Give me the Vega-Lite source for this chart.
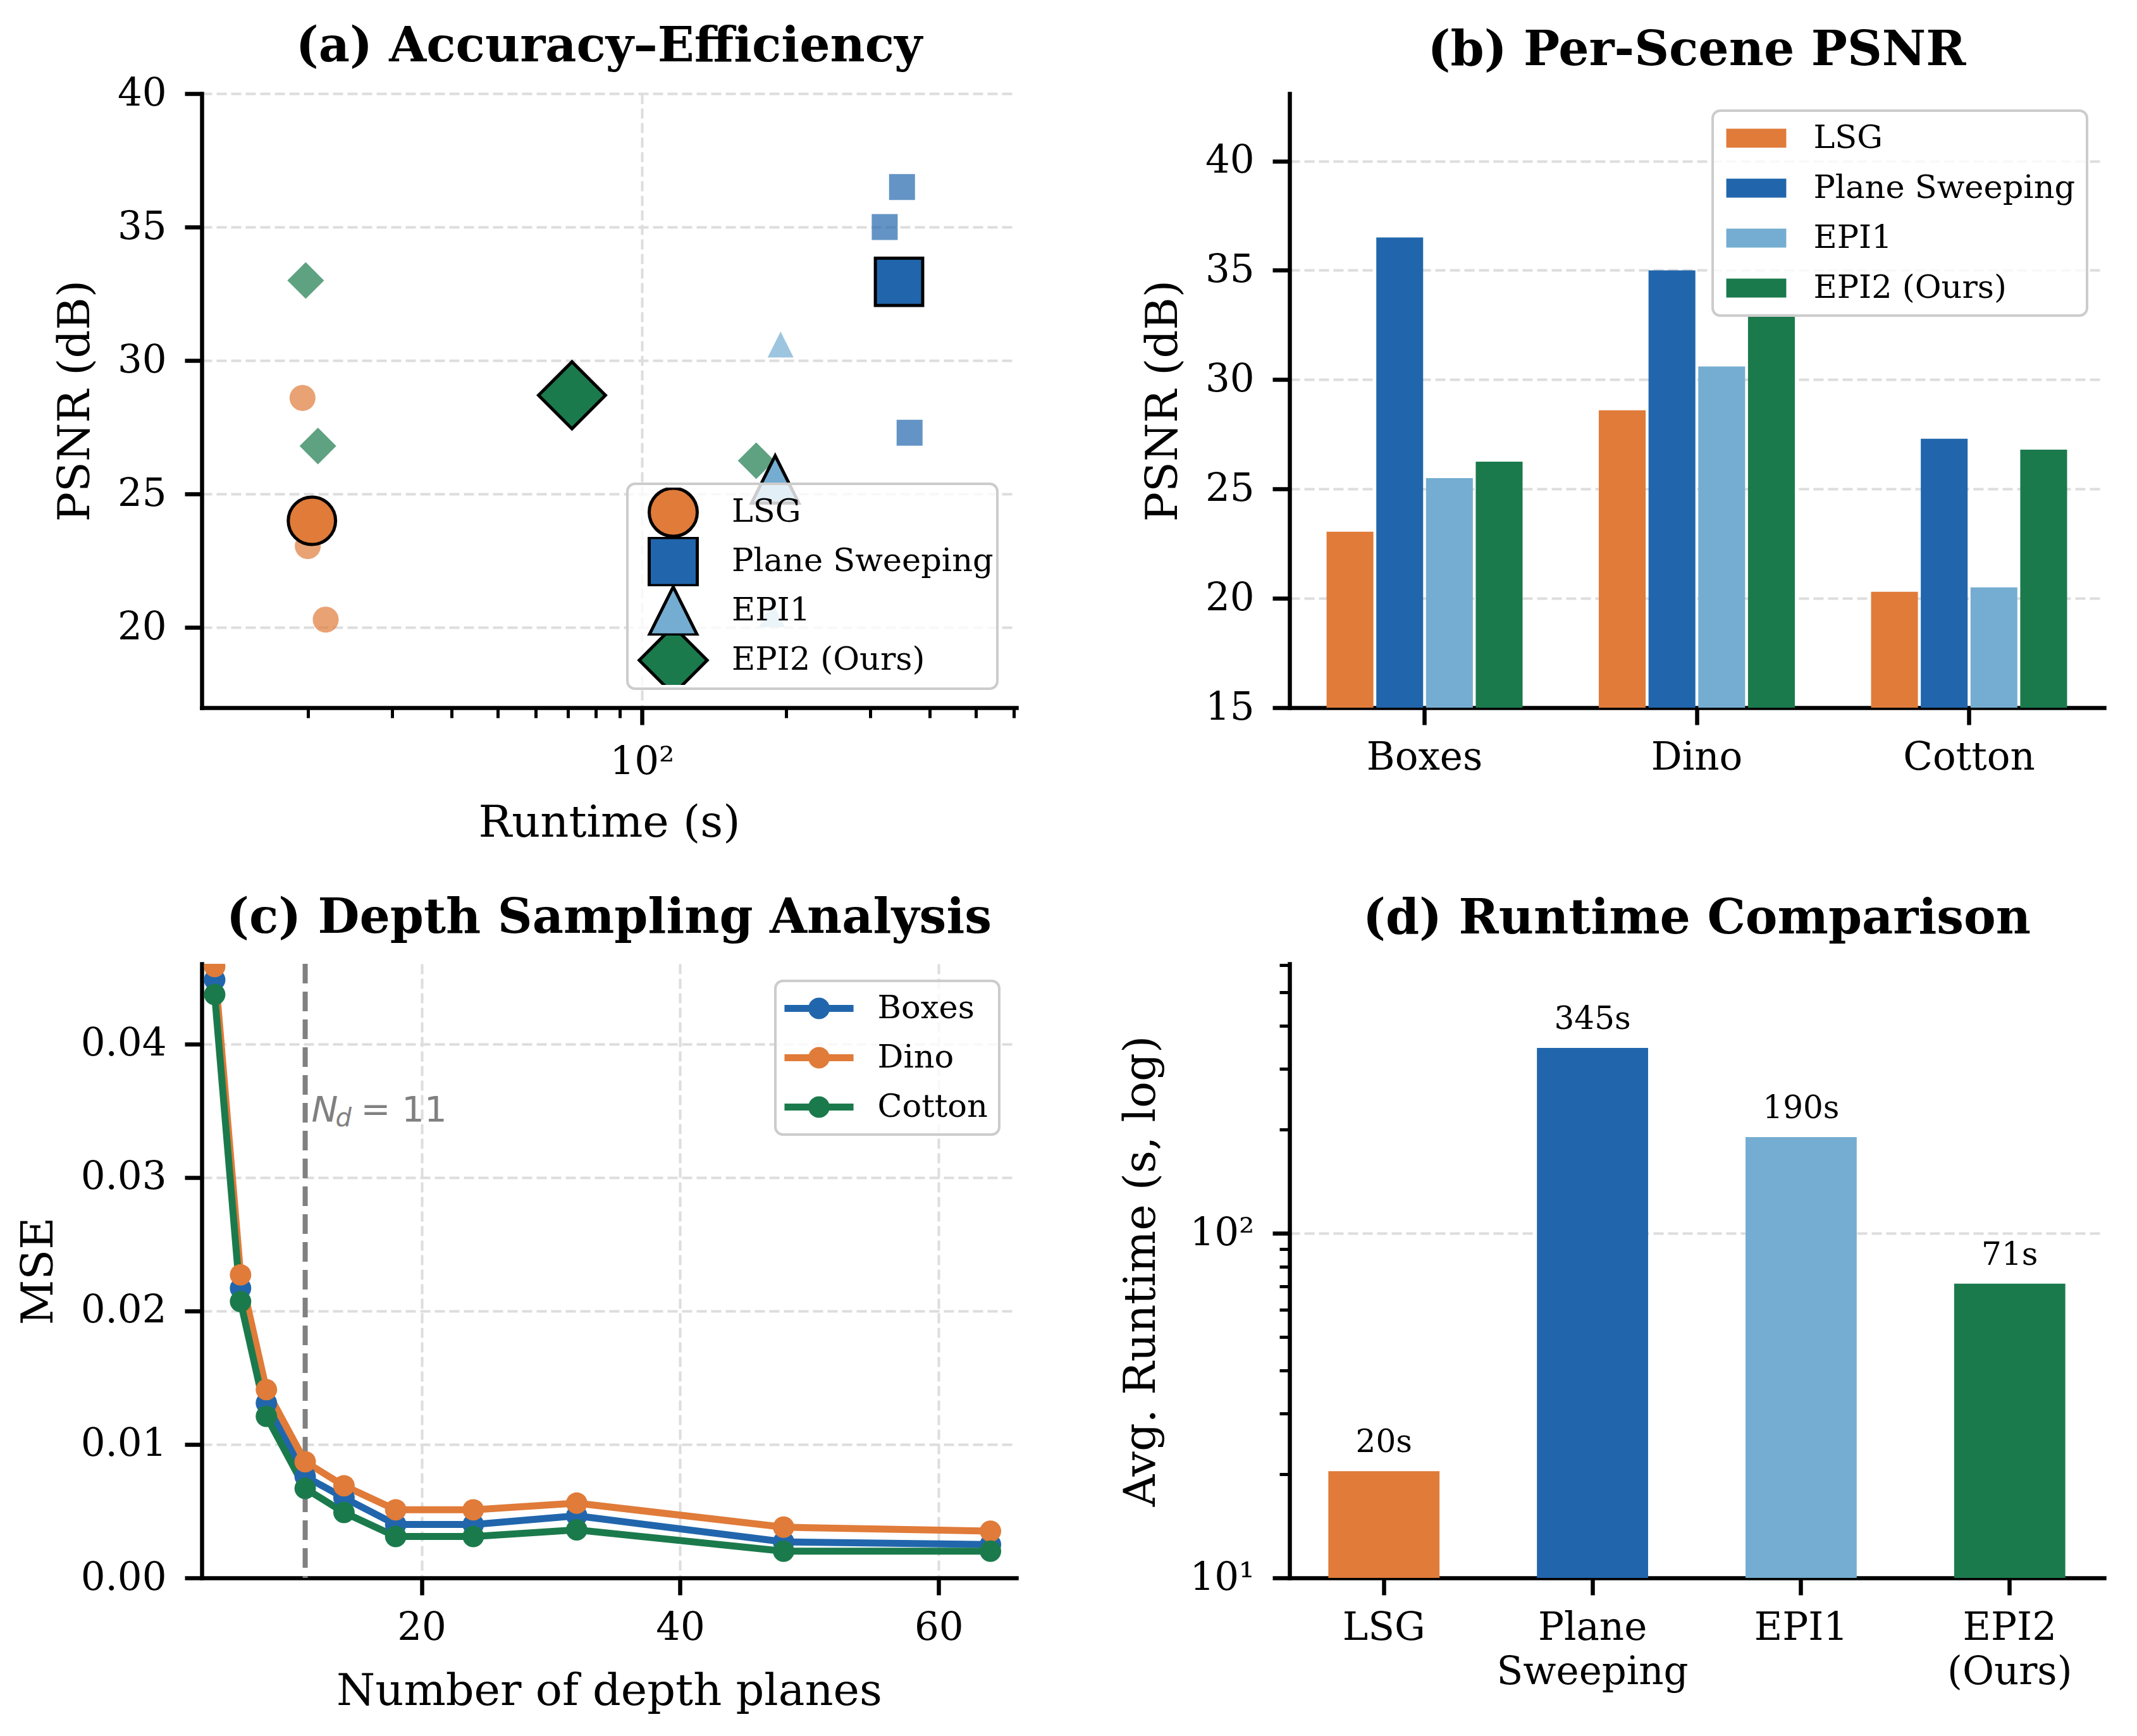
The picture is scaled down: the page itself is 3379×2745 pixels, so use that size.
{
  "$schema": "https://vega.github.io/schema/vega-lite/v6.json",
  "background": "white",
  "padding": {"left": 26, "top": 36, "right": 20, "bottom": 20},
  "datasets": {
    "scenes": [
      {"method": "LSG", "scene": "Boxes", "psnr": 23.05, "runtime": 20.0},
      {"method": "LSG", "scene": "Dino", "psnr": 28.6, "runtime": 19.5},
      {"method": "LSG", "scene": "Cotton", "psnr": 20.3, "runtime": 21.8},
      {"method": "Plane Sweeping", "scene": "Boxes", "psnr": 36.5, "runtime": 350},
      {"method": "Plane Sweeping", "scene": "Dino", "psnr": 35.0, "runtime": 322},
      {"method": "Plane Sweeping", "scene": "Cotton", "psnr": 27.3, "runtime": 363},
      {"method": "EPI1", "scene": "Boxes", "psnr": 25.5, "runtime": 188},
      {"method": "EPI1", "scene": "Dino", "psnr": 30.6, "runtime": 195},
      {"method": "EPI1", "scene": "Cotton", "psnr": 20.5, "runtime": 187},
      {"method": "EPI2 (Ours)", "scene": "Boxes", "psnr": 26.25, "runtime": 173.4},
      {"method": "EPI2 (Ours)", "scene": "Dino", "psnr": 33.0, "runtime": 19.8},
      {"method": "EPI2 (Ours)", "scene": "Cotton", "psnr": 26.8, "runtime": 21.0}
    ],
    "means": [
      {"method": "LSG", "psnr": 24.0, "runtime": 20.4, "label": "20s"},
      {"method": "Plane Sweeping", "psnr": 32.95, "runtime": 345, "label": "345s"},
      {"method": "EPI1", "psnr": 25.55, "runtime": 190, "label": "190s"},
      {"method": "EPI2 (Ours)", "psnr": 28.7, "runtime": 71.4, "label": "71s"}
    ],
    "mse": [
      {"scene": "Boxes", "planes": 4, "mse": 0.0448},
      {"scene": "Boxes", "planes": 6, "mse": 0.0217},
      {"scene": "Boxes", "planes": 8, "mse": 0.0131},
      {"scene": "Boxes", "planes": 11, "mse": 0.0076},
      {"scene": "Boxes", "planes": 14, "mse": 0.0060},
      {"scene": "Boxes", "planes": 18, "mse": 0.0040},
      {"scene": "Boxes", "planes": 24, "mse": 0.0040},
      {"scene": "Boxes", "planes": 32, "mse": 0.00465},
      {"scene": "Boxes", "planes": 48, "mse": 0.0027},
      {"scene": "Boxes", "planes": 64, "mse": 0.0025},
      {"scene": "Dino", "planes": 4, "mse": 0.0458},
      {"scene": "Dino", "planes": 6, "mse": 0.0227},
      {"scene": "Dino", "planes": 8, "mse": 0.0141},
      {"scene": "Dino", "planes": 11, "mse": 0.0087},
      {"scene": "Dino", "planes": 14, "mse": 0.0069},
      {"scene": "Dino", "planes": 18, "mse": 0.0051},
      {"scene": "Dino", "planes": 24, "mse": 0.0051},
      {"scene": "Dino", "planes": 32, "mse": 0.0056},
      {"scene": "Dino", "planes": 48, "mse": 0.0038},
      {"scene": "Dino", "planes": 64, "mse": 0.0035},
      {"scene": "Cotton", "planes": 4, "mse": 0.0437},
      {"scene": "Cotton", "planes": 6, "mse": 0.0207},
      {"scene": "Cotton", "planes": 8, "mse": 0.0121},
      {"scene": "Cotton", "planes": 11, "mse": 0.0067},
      {"scene": "Cotton", "planes": 14, "mse": 0.0049},
      {"scene": "Cotton", "planes": 18, "mse": 0.0031},
      {"scene": "Cotton", "planes": 24, "mse": 0.0031},
      {"scene": "Cotton", "planes": 32, "mse": 0.0036},
      {"scene": "Cotton", "planes": 48, "mse": 0.0020},
      {"scene": "Cotton", "planes": 64, "mse": 0.0020}
    ]
  },
  "columns": 2,
  "bounds": "flush",
  "spacing": {"row": 405, "column": 432},
  "resolve": {
    "scale": {"color": "independent", "shape": "independent", "stroke": "independent"},
    "legend": {"color": "independent", "shape": "independent", "stroke": "independent"}
  },
  "concat": [
    {
      "width": 1288,
      "height": 971,
      "title": {"text": "(a) Accuracy–Efficiency", "offset": 4},
      "encoding": {
        "x": {
          "field": "runtime", "type": "quantitative",
          "scale": {"type": "log", "domain": [12, 607], "nice": false},
          "axis": {
            "title": "Runtime (s)", "titlePadding": 32, "labelPadding": 29,
            "values": [20, 30, 40, 50, 60, 70, 80, 90, 100, 200, 300, 400, 500, 600],
            "labelExpr": "datum.value == 100 ? '10²' : ''",
            "tickSize": {"condition": {"test": "datum.value == 100", "value": 27}, "value": 16},
            "tickWidth": {"condition": {"test": "datum.value == 100", "value": 6.5}, "value": 5},
            "gridOpacity": {"condition": {"test": "datum.value == 100", "value": 1}, "value": 0}
          }
        },
        "y": {
          "field": "psnr", "type": "quantitative",
          "scale": {"domain": [17, 40], "nice": false, "zero": false},
          "axis": {"title": "PSNR (dB)", "values": [20, 25, 30, 35, 40]}
        },
        "color": {
          "field": "method", "type": "nominal",
          "scale": {"domain": ["LSG", "Plane Sweeping", "EPI1", "EPI2 (Ours)"], "range": ["#E07B39", "#2166AC", "#74ADD1", "#1B7A4C"]},
          "legend": {"title": null, "orient": "bottom-right", "offset": 30, "symbolSize": 5776, "symbolStrokeColor": "black", "symbolStrokeWidth": 5, "symbolOpacity": 1, "rowPadding": 0, "clipHeight": 78, "padding": 6, "symbolOffset": 26, "labelOffset": 52, "labelLimit": 0, "labelFontSize": 51,
            "encode": {"symbols": {"update": {"stroke": {"value": "black"}, "strokeWidth": {"value": 5}, "opacity": {"value": 1}, "size": {"value": 5776}}}}}
        },
        "shape": {
          "field": "method", "type": "nominal",
          "scale": {"domain": ["LSG", "Plane Sweeping", "EPI1", "EPI2 (Ours)"], "range": ["M 1 0 A 1 1 0 1 1 -1 0 A 1 1 0 1 1 1 0 Z", "M -1 -1 L 1 -1 L 1 1 L -1 1 Z", "M 0 -1 L 1 1 L -1 1 Z", "M -1.414 0 L 0 -1.414 L 1.414 0 L 0 1.414 Z"]},
          "legend": {"title": null, "orient": "bottom-right", "offset": 30, "symbolSize": 5776, "symbolStrokeColor": "black", "symbolStrokeWidth": 5, "symbolOpacity": 1, "rowPadding": 0, "clipHeight": 78, "padding": 6, "symbolOffset": 26, "labelOffset": 52, "labelLimit": 0, "labelFontSize": 51,
            "encode": {"symbols": {"update": {"stroke": {"value": "black"}, "strokeWidth": {"value": 5}, "opacity": {"value": 1}, "size": {"value": 5776}}}}}
        }
      },
      "layer": [
        {"data": {"name": "scenes"}, "mark": {"type": "point", "filled": true, "opacity": 0.7, "size": 1681}},
        {"data": {"name": "means"}, "mark": {"type": "point", "filled": true, "opacity": 1, "size": 5600, "stroke": "black", "strokeWidth": 5}}
      ]
    },
    {
      "width": 1288,
      "height": 971,
      "title": {"text": "(b) Per-Scene PSNR", "offset": 29},
      "data": {"name": "scenes"},
      "mark": {"type": "bar", "clip": true},
      "encoding": {
        "x": {
          "field": "scene", "type": "nominal", "sort": ["Boxes", "Dino", "Cotton"],
          "scale": {"paddingInner": 0.28, "paddingOuter": 0.136},
          "axis": {"title": null, "labelAngle": 0}
        },
        "xOffset": {
          "field": "method", "type": "nominal", "sort": ["LSG", "Plane Sweeping", "EPI1", "EPI2 (Ours)"],
          "scale": {"paddingInner": 0.058, "paddingOuter": 0}
        },
        "y": {
          "field": "psnr", "type": "quantitative", "stack": null,
          "scale": {"domain": [15, 43.08], "nice": false, "zero": false},
          "axis": {"title": "PSNR (dB)", "values": [15, 20, 25, 30, 35, 40]}
        },
        "color": {
          "field": "method", "type": "nominal",
          "scale": {"domain": ["LSG", "Plane Sweeping", "EPI1", "EPI2 (Ours)"], "range": ["#E07B39", "#2166AC", "#74ADD1", "#1B7A4C"]},
          "legend": {"title": null, "orient": "top-right", "offset": 27, "symbolType": "M -1.86 -0.59 L 1.86 -0.59 L 1.86 0.59 L -1.86 0.59 Z", "symbolSize": 2601, "symbolStrokeWidth": 0, "symbolOffset": 25.5, "labelOffset": 65, "rowPadding": 27, "padding": 18, "labelLimit": 0, "labelFontSize": 51}
        }
      }
    },
    {
      "width": 1288,
      "height": 971,
      "title": {"text": "(c) Depth Sampling Analysis", "offset": 29},
      "layer": [
        {
          "data": {"values": [{"planes": 11}]},
          "mark": {"type": "rule", "color": "#808080", "strokeWidth": 8, "strokeDash": [31, 13]},
          "encoding": {
            "x": {"field": "planes", "type": "quantitative", "scale": {"domain": [3, 66], "nice": false}, "axis": {"title": "Number of depth planes", "values": [20, 40, 60]}}
          }
        },
        {
          "data": {"name": "mse"},
          "mark": {"type": "line", "strokeWidth": 11, "clip": true},
          "encoding": {
            "x": {"field": "planes", "type": "quantitative", "scale": {"domain": [3, 66], "nice": false}, "axis": {"title": "Number of depth planes", "values": [20, 40, 60]}},
            "y": {"field": "mse", "type": "quantitative", "scale": {"domain": [0, 0.046], "nice": false}, "axis": {"title": "MSE", "values": [0, 0.01, 0.02, 0.03, 0.04], "format": ".2f"}},
            "stroke": {"field": "scene", "type": "nominal", "scale": {"domain": ["Cotton", "Dino", "Boxes"], "range": ["#1B7A4C", "#E07B39", "#2166AC"]}, "legend": null}
          }
        },
        {
          "data": {"name": "mse"},
          "mark": {"type": "point", "filled": true, "opacity": 1, "size": 1150, "clip": true},
          "encoding": {
            "x": {"field": "planes", "type": "quantitative", "scale": {"domain": [3, 66], "nice": false}, "axis": {"title": "Number of depth planes", "values": [20, 40, 60]}},
            "y": {"field": "mse", "type": "quantitative", "scale": {"domain": [0, 0.046], "nice": false}, "axis": {"title": "MSE", "values": [0, 0.01, 0.02, 0.03, 0.04], "format": ".2f"}},
            "color": {
              "field": "scene", "type": "nominal",
              "scale": {"domain": ["Boxes", "Dino", "Cotton"], "range": ["#2166AC", "#E07B39", "#1B7A4C"]},
              "legend": {"title": null, "orient": "top-right", "offset": 27, "symbolType": "M -2.14 -0.216 L 2.14 -0.216 L 2.14 0.216 L -2.14 0.216 Z M 0.667 0 A 0.667 0.667 0 1 1 -0.667 0 A 0.667 0.667 0 1 1 0.667 0 Z", "symbolSize": 2601, "symbolStrokeWidth": 0, "symbolOpacity": 1, "symbolOffset": 25.5, "labelOffset": 67, "rowPadding": 26, "padding": 18, "labelLimit": 0, "labelFontSize": 51}
            }
          }
        },
        {
          "data": {"values": [{}]},
          "mark": {"type": "text", "text": "N", "font": "DejaVu Sans", "fontStyle": "italic", "fontSize": 56, "color": "#808080", "align": "left", "baseline": "alphabetic", "dx": 10},
          "encoding": {"x": {"datum": 11, "type": "quantitative"}, "y": {"datum": 0.0342, "type": "quantitative"}}
        },
        {
          "data": {"values": [{}]},
          "mark": {"type": "text", "text": "d", "font": "DejaVu Sans", "fontStyle": "italic", "fontSize": 40, "color": "#808080", "align": "left", "baseline": "alphabetic", "dx": 48, "dy": 8},
          "encoding": {"x": {"datum": 11, "type": "quantitative"}, "y": {"datum": 0.0342, "type": "quantitative"}}
        },
        {
          "data": {"values": [{}]},
          "mark": {"type": "text", "text": "= 11", "font": "DejaVu Sans", "fontSize": 56, "color": "#808080", "align": "left", "baseline": "alphabetic", "dx": 88},
          "encoding": {"x": {"datum": 11, "type": "quantitative"}, "y": {"datum": 0.0342, "type": "quantitative"}}
        }
      ]
    },
    {
      "width": 1288,
      "height": 971,
      "title": {"text": "(d) Runtime Comparison", "offset": 3},
      "data": {"name": "means"},
      "encoding": {
        "x": {
          "field": "method", "type": "nominal", "sort": ["LSG", "Plane Sweeping", "EPI1", "EPI2 (Ours)"],
          "scale": {"paddingInner": 0.467, "paddingOuter": 0.186},
          "axis": {
            "title": null, "labelAngle": 0, "labelLineHeight": 70,
            "labelExpr": "datum.value == 'Plane Sweeping' ? ['Plane', 'Sweeping'] : datum.value == 'EPI2 (Ours)' ? ['EPI2', '(Ours)'] : datum.label"
          }
        },
        "y": {
          "field": "runtime", "type": "quantitative", "stack": null,
          "scale": {"type": "log", "domain": [10, 605], "nice": false},
          "axis": {
            "title": "Avg. Runtime (s, log)", "titlePadding": 40,
            "values": [10, 20, 30, 40, 50, 60, 70, 80, 90, 100, 200, 300, 400, 500, 600],
            "labelExpr": "datum.value == 10 ? '10¹' : datum.value == 100 ? '10²' : ''",
            "tickSize": {"condition": {"test": "datum.value == 10 || datum.value == 100", "value": 27}, "value": 16},
            "tickWidth": {"condition": {"test": "datum.value == 10 || datum.value == 100", "value": 6.5}, "value": 5},
            "gridOpacity": {"condition": {"test": "datum.value == 100", "value": 1}, "value": 0}
          }
        }
      },
      "layer": [
        {
          "mark": {"type": "bar"},
          "encoding": {
            "color": {"field": "method", "type": "nominal", "scale": {"domain": ["LSG", "Plane Sweeping", "EPI1", "EPI2 (Ours)"], "range": ["#E07B39", "#2166AC", "#74ADD1", "#1B7A4C"]}, "legend": null}
          }
        },
        {
          "mark": {"type": "text", "dy": -30, "fontSize": 50, "font": "DejaVu Serif", "baseline": "alphabetic", "align": "center", "color": "black"},
          "encoding": {"text": {"field": "label", "type": "nominal"}}
        }
      ]
    }
  ],
  "config": {
    "font": "DejaVu Serif",
    "view": {"stroke": null},
    "title": {"font": "DejaVu Serif", "fontSize": 76, "fontWeight": "bold", "anchor": "middle", "color": "black"},
    "axis": {
      "labelFont": "DejaVu Serif", "titleFont": "DejaVu Serif",
      "labelFontSize": 61, "titleFontSize": 70, "titleFontWeight": "normal",
      "labelColor": "black", "titleColor": "black",
      "domainColor": "black", "domainWidth": 6.5, "domainCap": "square",
      "tickColor": "black", "tickWidth": 6.5, "tickSize": 27,
      "gridColor": "#dddddd", "gridDash": [16, 7], "gridWidth": 4,
      "labelFlush": false, "labelOverlap": false, "labelLimit": 0
    },
    "axisX": {"labelPadding": 22, "titlePadding": 36},
    "axisY": {"labelPadding": 29, "titlePadding": 30},
    "legend": {"labelFont": "DejaVu Serif", "labelColor": "black", "strokeColor": "#cccccc", "fillColor": "rgba(255,255,255,0.8)", "cornerRadius": 12, "strokeWidth": 4, "labelLimit": 0}
  }
}
